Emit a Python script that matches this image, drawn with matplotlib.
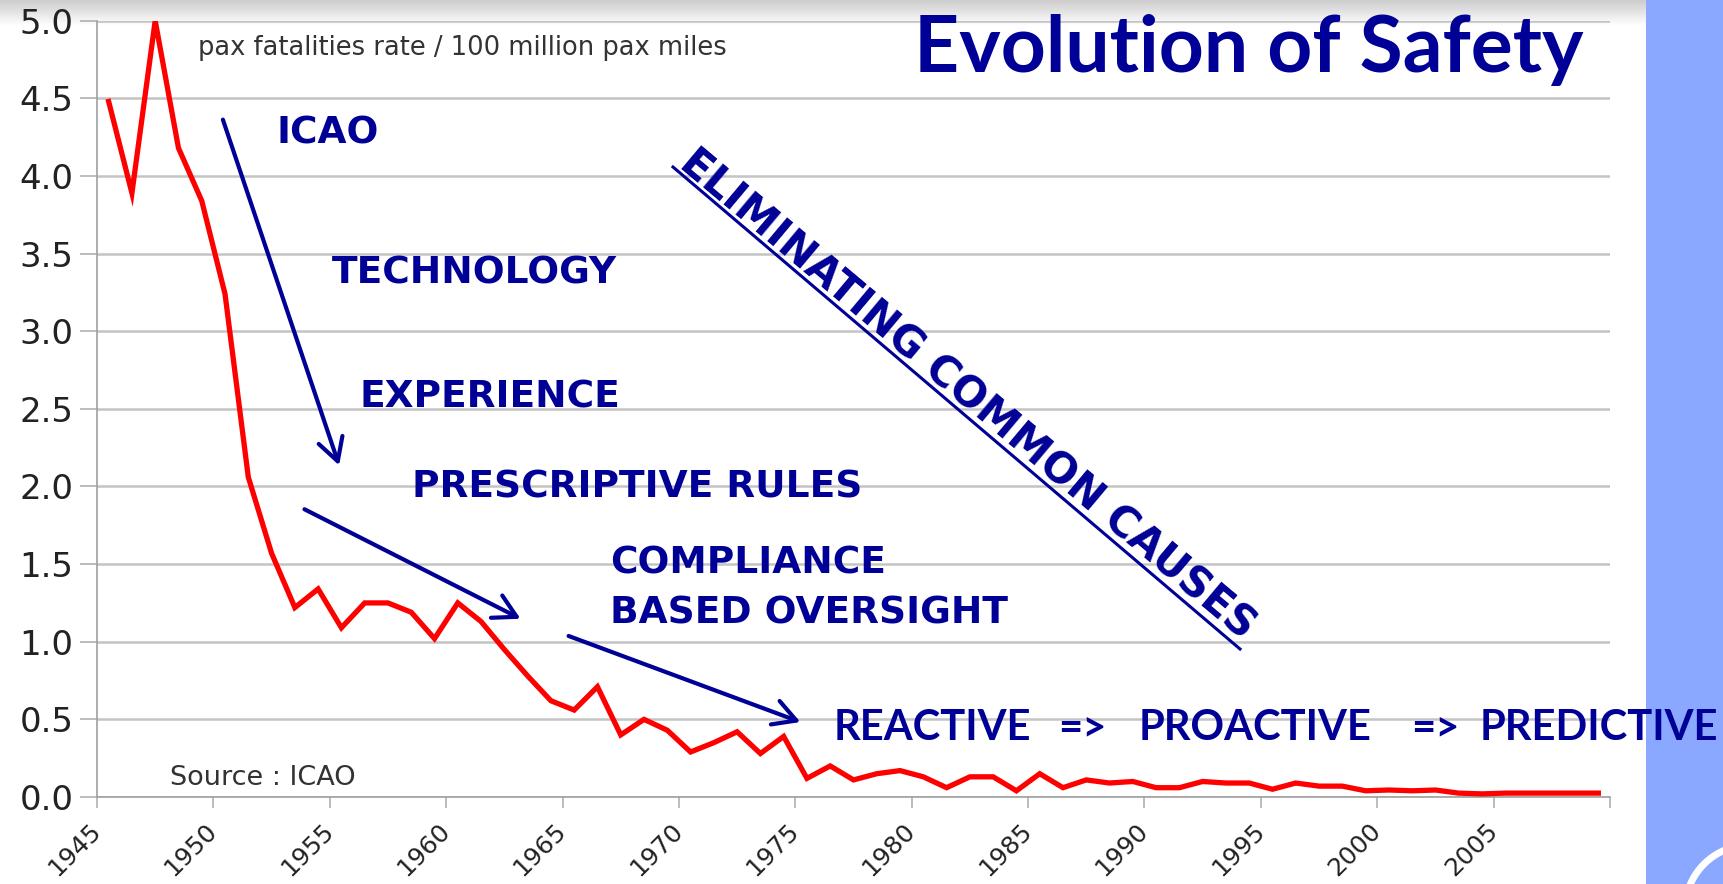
import matplotlib
matplotlib.use('Agg')
import matplotlib.pyplot as plt
import numpy as np

# passenger fatality rate per 100 million pax miles, ICAO
years = list(range(1945, 2010))
rate = [4.48, 3.89, 5.00, 4.18, 3.84, 3.24, 2.06, 1.57, 1.22, 1.34,
        1.09, 1.25, 1.25, 1.19, 1.02, 1.25, 1.13, 0.95, 0.78, 0.62,
        0.56, 0.71, 0.40, 0.50, 0.43, 0.29, 0.35, 0.42, 0.28, 0.39,
        0.12, 0.20, 0.11, 0.15, 0.17, 0.13, 0.06, 0.13, 0.13, 0.04,
        0.15, 0.06, 0.11, 0.09, 0.10, 0.06, 0.06, 0.10, 0.09, 0.09,
        0.05, 0.09, 0.07, 0.07, 0.04, 0.045, 0.04, 0.045, 0.025, 0.02,
        0.025, 0.025, 0.025, 0.025, 0.025]
xticks = list(range(1945, 2011, 5))
xticklabels = [str(y) for y in xticks[:-1]] + ['']
yticks = [0, 0.5, 1, 1.5, 2, 2.5, 3, 3.5, 4, 4.5, 5]

stages = ['ICAO', 'TECHNOLOGY', 'EXPERIENCE', 'PRESCRIPTIVE RULES',
          'COMPLIANCE', 'BASED OVERSIGHT']
maturity = ['REACTIVE', '=>', 'PROACTIVE', '=>', 'PREDICTIVE']

W, H = 1724, 884
navy = '#000096'

def fx(px):
    return px / W

def fy(py):
    return 1 - py / H

fig = plt.figure(figsize=(W / 100, H / 100), dpi=100)
fig.patch.set_facecolor('white')

# slide decoration: top shadow, blue side bar, logo corner
bg = fig.add_axes([0, fy(26), fx(1646), 26 / H], zorder=0)
grad = np.linspace(0.80, 1.0, 50).reshape(-1, 1)
bg.imshow(grad, aspect='auto', cmap='gray', vmin=0, vmax=1, extent=[0, 1, 0, 1], origin='upper')
bg.axis('off')
side = fig.add_axes([fx(1646), 0, 1 - fx(1646), 1], zorder=0.5)
side.set_facecolor('#8AA8FF')
side.set_xlim(1646, 1724)
side.set_ylim(884, 0)
side.add_patch(matplotlib.patches.Arc((1750, 910), 130, 130, theta1=180, theta2=270,
                                      color='white', lw=5))
side.set_xticks([])
side.set_yticks([])
for s in side.spines.values():
    s.set_visible(False)

ax = fig.add_axes([fx(97), fy(797), fx(1610) - fx(97), (797 - 20.7) / H], zorder=1)
ax.patch.set_facecolor('none')
ax.plot([y + 0.5 for y in years], rate, color='#FF0000', lw=3.8, zorder=3, solid_joinstyle='miter')
ax.set_xlim(1945, 2010)
ax.set_ylim(0, 5)
ax.set_yticks(yticks)
ax.set_yticklabels(['%.1f' % v for v in yticks], fontsize=24.5, color='#222222')
ax.set_xticks(xticks)
ax.set_xticklabels(xticklabels, rotation=45, ha='right', va='center', rotation_mode='anchor',
                   fontsize=18, color='#222222')
ax.grid(axis='y', color='#c4c4c4', lw=1.8)
ax.tick_params(axis='y', length=12, width=1.2, color='#b0b0b0', pad=5)
ax.tick_params(axis='x', length=8, width=1.2, color='#b0b0b0', pad=14)
for s in ['top', 'right']:
    ax.spines[s].set_visible(False)
for s in ['left', 'bottom']:
    ax.spines[s].set_color('#a0a0a0')
    ax.spines[s].set_linewidth(1.2)

fig.text(fx(198), fy(48), 'pax fatalities rate / 100 million pax miles', fontsize=18.5,
         color='#333333', va='center')
fig.text(fx(170), fy(778), 'Source : ICAO', fontsize=19.5, color='#333333', va='center')

fig.text(fx(1583), fy(50), 'Evolution of Safety', fontsize=56.5, fontweight='bold',
         family=['Lato', 'DejaVu Sans'], color=navy, ha='right', va='center')

stage_pos = [(277, 134), (332, 273), (360, 398), (412, 487), (610, 563), (610, 614)]
for label, (px, py) in zip(stages, stage_pos):
    fig.text(fx(px), fy(py), label, fontsize=27, fontweight='bold', color=navy, va='center')

mat_x = [834, 1058, 1139, 1411, 1480]
for label, px in zip(maturity, mat_x):
    fig.text(fx(px), fy(728), label, fontsize=30, fontweight='bold',
             family=['Lato', 'DejaVu Sans'], color=navy, va='center', zorder=5)

arrows = [((222, 117), (340, 468)), ((302, 508), (523, 620)), ((566, 635), (803, 723))]
for (x0, y0), (x1, y1) in arrows:
    fig.add_artist(matplotlib.patches.FancyArrowPatch(
        (fx(x0), fy(y0)), (fx(x1), fy(y1)), transform=fig.transFigure,
        arrowstyle='->,head_length=0.9,head_width=0.5', mutation_scale=18,
        color=navy, lw=3, zorder=4))

fig.text(fx(968), fy(394), 'ELIMINATING COMMON CAUSES', fontsize=30, fontweight='bold',
         color=navy, rotation=-40, rotation_mode='anchor', ha='center', va='center')
fig.add_artist(plt.Line2D([fx(673), fx(1240)], [fy(167), fy(649)], transform=fig.transFigure,
                          color=navy, lw=2.2))

fig.savefig('out.png', dpi=100)
